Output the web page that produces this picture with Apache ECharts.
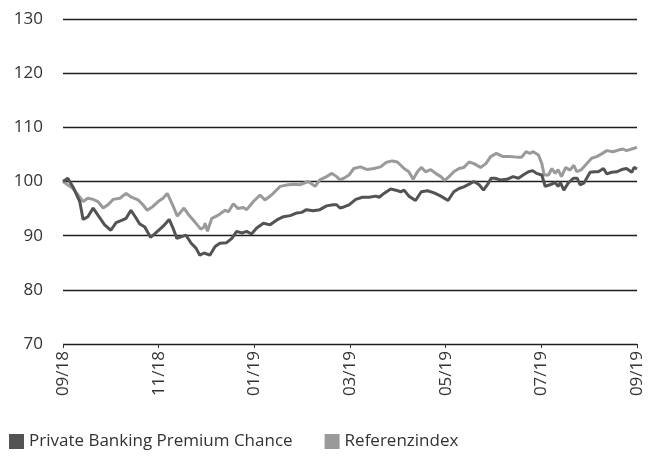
<!DOCTYPE html>
<html>
<head>
<meta charset="utf-8">
<script src="https://cdn.jsdelivr.net/npm/echarts@6/dist/echarts.min.js"></script>
<style>html,body{margin:0;padding:0;background:#fff}#c{width:654px;height:459px}</style>
</head>
<body>
<div id="c"></div>
<script>
// x values: months since 09/18
const tickLabels = ['09/18','11/18','01/19','03/19','05/19','07/19','09/19'];
const seriesNames = ['Private Banking Premium Chance','Referenzindex'];

const fundX = [0,0.10,0.21,0.35,0.42,0.52,0.63,0.73,0.87,1.00,1.11,1.25,1.32,1.42,1.51,1.60,1.71,1.83,1.94,2.09,2.22,2.30,2.38,2.57,2.68,2.78,2.86,2.95,3.07,3.18,3.28,3.42,3.53,3.63,3.74,3.84,3.94,4.05,4.19,4.33,4.47,4.61,4.75,4.89,4.99,5.09,5.23,5.37,5.51,5.65,5.72,5.79,5.87,5.98,6.12,6.26,6.40,6.54,6.61,6.71,6.85,6.96,7.06,7.13,7.23,7.37,7.49,7.62,7.76,7.90,8.05,8.17,8.28,8.38,8.49,8.59,8.70,8.79,8.88,8.95,9.03,9.14,9.28,9.41,9.52,9.62,9.73,9.82,9.90,10.01,10.08,10.18,10.29,10.35,10.40,10.47,10.56,10.67,10.75,10.81,10.89,11.02,11.12,11.19,11.30,11.37,11.47,11.58,11.68,11.78,11.89,11.94,12.00];
const fundY = [100,100.6,99,96.3,93,93.5,95.1,93.8,92,91,92.4,92.9,93.2,94.7,93.5,92.2,91.6,89.7,90.5,91.7,93,91.4,89.5,90.1,88.6,87.7,86.4,86.8,86.4,88,88.6,88.7,89.5,90.8,90.5,90.8,90.3,91.4,92.3,92,92.9,93.5,93.7,94.2,94.3,94.8,94.6,94.8,95.5,95.7,95.7,95.1,95.3,95.7,96.7,97.1,97.1,97.3,97.1,97.8,98.6,98.4,98.1,98.4,97.3,96.5,98.1,98.3,97.9,97.3,96.5,98.1,98.7,99,99.5,100,99.4,98.4,99.5,100.6,100.6,100.3,100.4,100.9,100.6,101.2,101.8,102,101.5,101.2,99.1,99.4,99.8,99.1,99.8,98.4,99.7,100.6,100.6,99.4,99.7,101.7,101.8,101.8,102.4,101.4,101.7,101.8,102.2,102.4,101.7,102.6,102.3];

const indexX = [0,0.21,0.42,0.52,0.63,0.73,0.84,0.94,1.05,1.19,1.32,1.43,1.57,1.67,1.76,1.88,1.99,2.09,2.18,2.30,2.39,2.53,2.63,2.75,2.88,2.95,2.97,3.02,3.11,3.25,3.39,3.46,3.56,3.66,3.77,3.84,3.98,4.12,4.22,4.36,4.54,4.71,4.85,4.95,5.13,5.27,5.37,5.51,5.62,5.72,5.79,5.87,5.98,6.08,6.22,6.36,6.50,6.64,6.75,6.88,6.99,7.02,7.13,7.23,7.32,7.41,7.49,7.58,7.69,7.79,7.90,7.98,8.07,8.17,8.28,8.38,8.49,8.59,8.73,8.84,8.94,9.06,9.20,9.34,9.49,9.59,9.68,9.76,9.83,9.94,10.01,10.06,10.15,10.22,10.29,10.35,10.42,10.51,10.60,10.68,10.74,10.84,10.95,11.05,11.16,11.26,11.37,11.50,11.61,11.71,11.78,11.89,12.00];
const indexY = [100,98.7,96.3,96.9,96.7,96.3,95.1,95.7,96.7,96.9,97.8,97.1,96.6,95.7,94.7,95.4,96.3,96.9,97.8,95.5,93.6,95.1,93.8,92.6,91.2,91.6,92.3,90.8,93.2,93.8,94.7,94.4,95.9,95,95.2,94.8,96.3,97.5,96.6,97.5,99.1,99.4,99.5,99.4,100,99.1,100.3,100.9,101.5,100.9,100.3,100.6,101.2,102.4,102.7,102.2,102.4,102.7,103.5,103.8,103.6,103.9,102.4,101.8,100.4,101.8,102.6,101.8,102.2,101.5,100.9,100.2,100.9,101.8,102.4,102.6,103.6,103.3,102.6,103.3,104.6,105.2,104.6,104.6,104.5,104.5,105.5,105.2,105.5,104.9,103.3,101.2,101.2,102.4,101.5,102.2,100.9,102.6,102.1,103,101.8,102.2,103.3,104.3,104.6,105.1,105.7,105.5,105.8,106,105.7,106,106.3];

const pairs = (xs, ys) => xs.map((x, i) => [x, ys[i]]);
const FONT = 'Open Sans';

const chart = echarts.init(document.getElementById('c'), null, {renderer: 'canvas'});
chart.setOption({
  animation: false,
  backgroundColor: '#fff',
  textStyle: {fontFamily: FONT},
  grid: {left: 63, right: 17, top: 19, bottom: 115, containLabel: false},
  legend: {
    left: 4, top: 428,
    icon: 'rect', itemWidth: 15, itemHeight: 15, itemGap: 32,
    textStyle: {fontFamily: FONT, fontSize: 17, color: '#333'},
    data: seriesNames
  },
  xAxis: {
    type: 'value', min: 0, max: 12, interval: 2,
    axisLine: {show: false},
    axisTick: {show: true, length: 4, lineStyle: {color: '#333'}},
    splitLine: {show: false},
    axisLabel: {
      rotate: 90, margin: 7, fontSize: 17, color: '#333', fontFamily: FONT,
      formatter: v => tickLabels[Math.round(v / 2)]
    }
  },
  yAxis: {
    type: 'value', min: 70, max: 130, interval: 10,
    axisLine: {show: false}, axisTick: {show: false},
    splitLine: {lineStyle: {color: '#1e1e1e', width: 1.4}},
    axisLabel: {fontSize: 17, color: '#333', margin: 20, fontFamily: FONT}
  },
  series: [
    {name: seriesNames[0], type: 'line', data: pairs(fundX, fundY), showSymbol: false, symbol: 'none',
     lineStyle: {color: '#535353', width: 3}, itemStyle: {color: '#535353'}, z: 3},
    {name: seriesNames[1], type: 'line', data: pairs(indexX, indexY), showSymbol: false, symbol: 'none',
     lineStyle: {color: '#9a9a9a', width: 3}, itemStyle: {color: '#9a9a9a'}, z: 2}
  ]
});
</script>
</body>
</html>
